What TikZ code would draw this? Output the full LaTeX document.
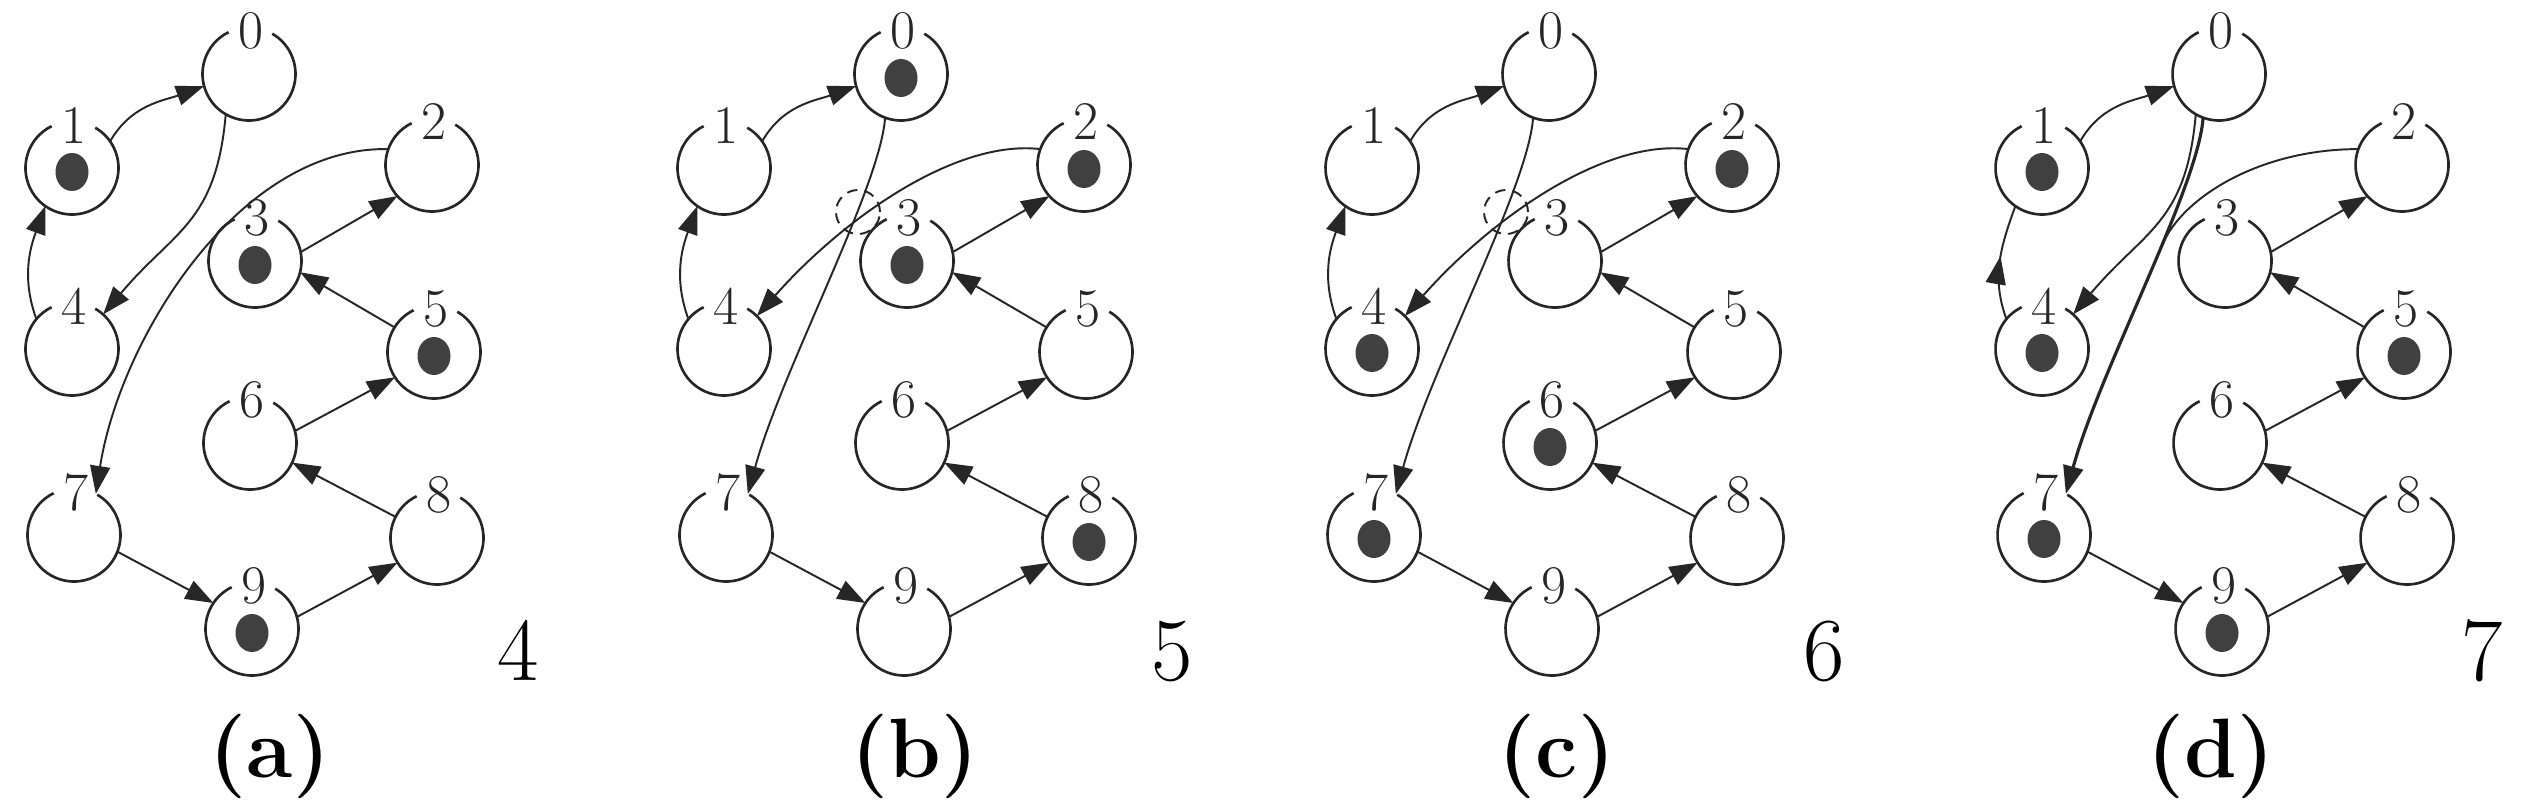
\documentclass[tikz,border=0pt]{standalone}
\usetikzlibrary{arrows.meta,calc,shapes.geometric,decorations.markings}
\tikzset{
  place/.style={circle,minimum size=9.3mm,inner sep=0pt,outer sep=0pt,draw=none},
  ring/.style={line width=0.75pt,draw=black!85},
  lbl/.style={inner sep=0pt,font=\fontsize{15.5}{15.5}\selectfont,text=black!85},
  token/.style={ellipse,minimum width=3.3mm,minimum height=3.8mm,inner sep=0pt,fill=black!75,draw=none},
  conn/.style={line width=0.55pt,draw=black!85},
  edge/.style={conn,-{Triangle[length=2.8mm,width=2.0mm]}},
  midarrow/.style={conn,postaction={decorate},decoration={markings,mark=at position 0.55 with {\arrow{Triangle[length=2.8mm,width=2.0mm]}}}},
  crossloop/.style={densely dashed,line width=0.55pt,draw=black!85},
  bignum/.style={inner sep=0pt,anchor=base,font=\fontsize{25.6}{26}\selectfont},
  panlab/.style={inner sep=0pt,anchor=base,font=\fontsize{24}{26}\selectfont\bfseries},
}
\newcommand\mkplace[4]{%
  \node[place] (#1) at (#2,#3) {};
  \draw[ring] ($(#1.center)+(116:4.65mm)$) arc[start angle=116,end angle=420,radius=4.65mm];
  \node[lbl] (#1l) at ($(#1.center)+(2,43)$) {#4};
}
\newcommand\mktoken[1]{\node[token] (#1t) at ($(#1.center)+(0,-4)$) {};}
\newcommand\mkpanel[2]{%
  \mkplace{#10}{#2+249}{736}{0}
  \mkplace{#11}{#2+72}{642}{1}
  \mkplace{#12}{#2+432}{645}{2}
  \mkplace{#13}{#2+255}{549}{3}
  \mkplace{#14}{#2+72}{461}{4}
  \mkplace{#15}{#2+434}{458}{5}
  \mkplace{#16}{#2+250}{367}{6}
  \mkplace{#17}{#2+74}{275}{7}
  \mkplace{#18}{#2+437}{272}{8}
  \mkplace{#19}{#2+252}{181}{9}
  \draw[edge] (#11.35) to[out=60,in=200] (#10.195);
  \draw[edge] (#13.11) -- (#12.222);
  \draw[edge] (#15.148) -- (#13.346);
  \draw[edge] (#16.15) -- (#15.213);
  \draw[edge] (#18.153) -- (#16.335);
  \draw[edge] (#17.339) -- (#19.146);
  \draw[edge] (#19.15) -- (#18.212);
}
\begin{document}
\begin{tikzpicture}[x=0.1mm,y=0.1mm]
\fill[white] (0,0) rectangle (2527,810);
\useasboundingbox (0,0) rectangle (2527,810);
% panel (a)
\mkpanel{a}{0}
\draw[edge] (a4.140) to[out=110,in=250] (a1.235);
\draw[edge] (a0.240) to[out=265,in=50,looseness=1.2] (a4.48);
\draw[edge] (a2.160) .. controls +(-150,3) and +(24,154) .. (a7.62);
\mktoken{a1}\mktoken{a3}\mktoken{a5}\mktoken{a9}
\node[bignum] (na) at (518,130) {4};
\node[panlab] (la) at (270,33) {(a)};
% panel (b)
\mkpanel{b}{652}
\draw[edge] (b4.140) to[out=110,in=250] (b1.235);
\draw[edge] (b0.250) .. controls +(-5,-70) and +(34,124) .. (b7.62);
\draw[edge] (b2.160) .. controls +(-86,10) and +(85,96) .. (b4.45);
\coordinate (bx) at (652+206,598);
\draw[crossloop] (bx) circle[radius=2.2mm];
\mktoken{b0}\mktoken{b2}\mktoken{b3}\mktoken{b8}
\node[bignum] (nb) at (1172,130) {5};
\node[panlab] (lb) at (915,33) {(b)};
% panel (c)
\mkpanel{c}{1300}
\draw[edge] (c4.140) to[out=110,in=250] (c1.235);
\draw[edge] (c0.250) .. controls +(-5,-70) and +(34,124) .. (c7.62);
\draw[edge] (c2.160) .. controls +(-86,10) and +(85,96) .. (c4.45);
\coordinate (cx) at (1300+206,598);
\draw[crossloop] (cx) circle[radius=2.2mm];
\mktoken{c2}\mktoken{c4}\mktoken{c6}\mktoken{c7}
\node[bignum] (nc) at (1824,130) {6};
\node[panlab] (lc) at (1557,33) {(c)};
% panel (d)
\mkpanel{d}{1970}
\draw[midarrow] (d4.140) to[out=110,in=250] (d1.235);
\draw[edge] (d0.240) to[out=265,in=50,looseness=1.2] (d4.48);
\draw[edge,line width=0.9pt] (d0.250) .. controls +(-5,-70) and +(34,124) .. coordinate[pos=0.4] (dm) (d7.62);
\draw[conn] (d2.160) .. controls +(-100,0) and +(19,46) .. (dm);
\mktoken{d1}\mktoken{d4}\mktoken{d5}\mktoken{d7}\mktoken{d9}
\node[bignum] (nd) at (2482,130) {7};
\node[panlab] (ld) at (2211,33) {(d)};
\end{tikzpicture}
\end{document}
